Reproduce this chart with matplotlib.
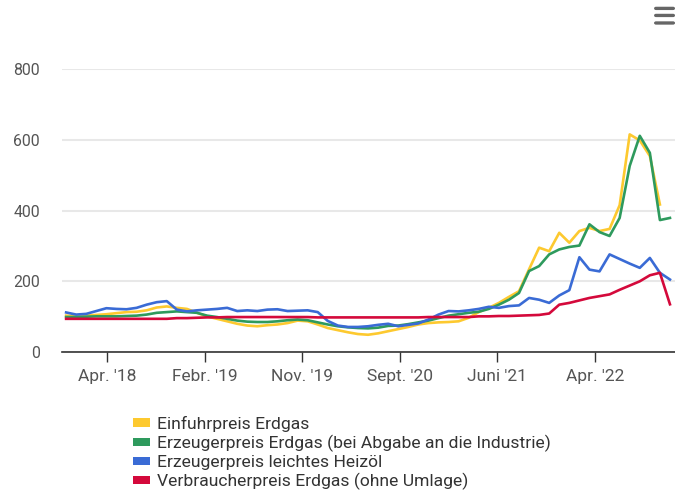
import numpy as np
import matplotlib.pyplot as plt
from matplotlib.patches import Patch, FancyBboxPatch

plt.rcParams['font.family'] = ['Roboto', 'DejaVu Sans']

# Monthly index values, Dec 2017 .. Dec 2022
einfuhr = [103, 101, 103, 105, 107, 110, 113, 114, 118, 126,
           129, 125, 122, 111, 101, 94, 87, 80, 75, 73,
           76, 78, 82, 89, 87, 78, 68, 62, 56, 51,
           49, 53, 59, 65, 71, 78, 82, 84, 85, 87,
           97, 113, 125, 139, 156, 172, 234, 295, 285, 337,
           309, 342, 351, 342, 348, 415, 615, 598, 554, 417,
           np.nan]
erzeuger_gas = [99, 99, 100, 101, 101, 101, 102, 103, 106, 111,
                113, 115, 113, 111, 103, 99, 94, 89, 86, 85,
                85, 87, 90, 92, 90, 84, 78, 73, 70, 68,
                67, 69, 74, 75, 79, 84, 89, 96, 103, 107,
                111, 114, 122, 134, 148, 167, 229, 243, 276, 290,
                297, 301, 361, 339, 328, 379, 526, 611, 563, 373,
                379]
heizoel = [112, 106, 108, 116, 124, 122, 121, 125, 134, 141,
           144, 120, 115, 118, 120, 122, 125, 116, 118, 116,
           120, 121, 116, 117, 118, 113, 88, 75, 71, 71,
           73, 77, 80, 73, 77, 81, 92, 106, 116, 115,
           118, 122, 128, 125, 130, 132, 153, 148, 139, 160,
           175, 268, 233, 228, 276, 263, 250, 238, 266, 224,
           205]
verbraucher = [94, 94, 94, 94, 94, 94, 94, 94, 94, 94,
               94, 96, 96, 97, 98, 98, 99, 99, 99, 99,
               99, 99, 99, 99, 99, 98, 98, 98, 98, 98,
               98, 98, 98, 98, 98, 98, 99, 99, 99, 99,
               99, 101, 101, 102, 102, 103, 104, 105, 109, 134,
               139, 146, 153, 158, 163, 176, 188, 200, 217, 224,
               135]

labels = ['Einfuhrpreis Erdgas',
          'Erzeugerpreis Erdgas (bei Abgabe an die Industrie)',
          'Erzeugerpreis leichtes Heizöl',
          'Verbraucherpreis Erdgas (ohne Umlage)']
colors = ['#fdc92f', '#2e9a5d', '#3a6bd5', '#d4093b']
tick_labels = ["Apr. '18", "Febr. '19", "Nov. '19", "Sept. '20", "Juni '21", "Apr. '22"]

x = np.arange(len(erzeuger_gas))

fig = plt.figure(figsize=(6.75, 5.03), dpi=100)
ax = fig.add_axes([0.092, 0.300, 0.908, 0.563])

for series, c in zip([einfuhr, erzeuger_gas, heizoel, verbraucher], colors):
    ax.plot(x, series, color=c, lw=1.9, solid_joinstyle='round')

ax.set_xlim(-0.4, 60.5)
ax.set_ylim(0, 800)
ax.set_yticks([0, 200, 400, 600, 800])
ax.set_xticks(4.07 + 9.69 * np.arange(len(tick_labels)))
ax.set_xticklabels(tick_labels)

ax.grid(axis='y', color='#e8e8e8', lw=1.5)
ax.set_axisbelow(True)
for s in ['top', 'right', 'left']:
    ax.spines[s].set_visible(False)
ax.spines['bottom'].set_color('#333333')
ax.spines['bottom'].set_linewidth(1.2)
ax.tick_params(axis='y', length=0, pad=16, labelsize=11.4, labelcolor='#555555')
ax.tick_params(axis='x', length=7, width=1, color='#333333', pad=5,
               labelsize=12.5, labelcolor='#555555')

handles = [Patch(facecolor=c, edgecolor='none') for c in colors]
fig.legend(handles, labels, loc='upper left', bbox_to_anchor=(0.184, 0.191),
           frameon=False, fontsize=12.6, labelcolor='#333333',
           handlelength=1.0, handleheight=0.34, handletextpad=0.35,
           labelspacing=0.17, borderpad=0)

# menu icon
for yy in [0.980, 0.966, 0.951]:
    fig.patches.append(FancyBboxPatch((0.969, yy), 0.031, 0.0066,
                                      boxstyle='round,pad=0,rounding_size=0.003',
                                      transform=fig.transFigure,
                                      facecolor='#666666', edgecolor='none'))

fig.savefig('out.png', dpi=100)
